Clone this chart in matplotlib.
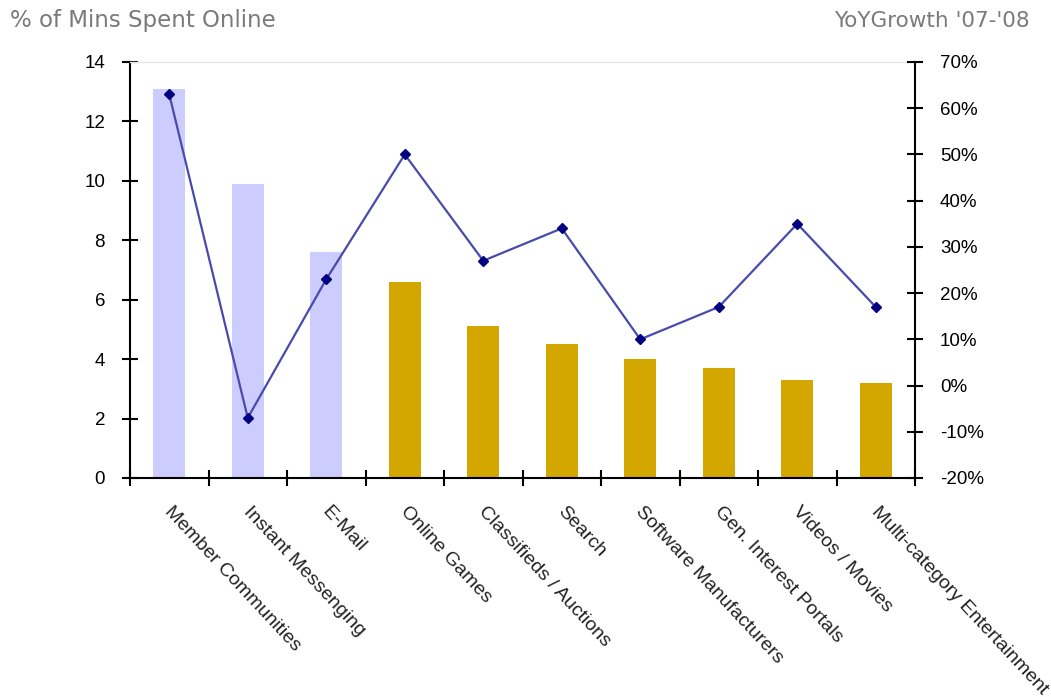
import matplotlib
matplotlib.use("Agg")
import matplotlib.pyplot as plt
from matplotlib.ticker import FuncFormatter

categories = ["Member Communities", "Instant Messenging", "E-Mail", "Online Games",
              "Classifieds / Auctions", "Search", "Software Manufacturers",
              "Gen. Interest Portals", "Videos / Movies", "Multi-category Entertainment"]
share_of_minutes = [13.1, 9.9, 7.6, 6.6, 5.1, 4.5, 4.0, 3.7, 3.3, 3.2]
yoy_growth = [63, -7, 23, 50, 27, 34, 10, 17, 35, 17]
bar_colors = ["#CCCCFF"] * 3 + ["#D4A600"] * 7

left_ticks = [0, 2, 4, 6, 8, 10, 12, 14]
right_ticks = [-20, -10, 0, 10, 20, 30, 40, 50, 60, 70]

plt.rcParams["font.family"] = ["Liberation Sans", "DejaVu Sans"]

fig = plt.figure(figsize=(10.51, 6.97), dpi=100)
ax = fig.add_axes([130 / 1051, 1 - 478 / 697, 785 / 1051, 416 / 697])
x = list(range(len(categories)))

ax.bar(x, share_of_minutes, width=0.41, color=bar_colors, zorder=2)
ax.set_xlim(-0.5, len(categories) - 0.5)
ax.set_ylim(0, 14)
ax.set_yticks(left_ticks)
ax.set_xticks([i - 0.5 for i in range(len(categories) + 1)])
ax.set_xticklabels([])
ax.tick_params(axis="both", direction="inout", length=12, width=1.5,
               colors="black", labelsize=13.5)
ax.tick_params(axis="y", pad=12)
for i, name in enumerate(categories):
    ax.text(i + 0.06, -0.85, name, rotation=-47, rotation_mode="anchor",
            ha="left", va="top", fontsize=14, color="#222222")

for side in ["left", "bottom"]:
    ax.spines[side].set_linewidth(1.5)
ax.spines["top"].set_color("#E6E6E6")
ax.spines["top"].set_linewidth(1)
ax.spines["right"].set_visible(False)

ax2 = ax.twinx()
ax2.plot(x, yoy_growth, color="#4A4AAE", lw=1.6, marker="D", ms=5,
         mfc="#000080", mec="#000080", zorder=3)
ax2.set_ylim(-20, 70)
ax2.set_yticks(right_ticks)
ax2.yaxis.set_major_formatter(FuncFormatter(lambda v, _: f"{v:.0f}%"))
ax2.tick_params(axis="y", direction="inout", length=12, width=1.5,
                labelsize=13.5, pad=12)
ax2.spines["right"].set_linewidth(1.5)
for side in ["left", "top", "bottom"]:
    ax2.spines[side].set_visible(False)

fig.text(10 / 1051, 1 - 21 / 697, "% of Mins Spent Online", ha="left",
         va="center", fontsize=16.5, color="#7A7A7A", family="DejaVu Sans")
fig.text(1030 / 1051, 1 - 21 / 697, "YoYGrowth '07-'08", ha="right",
         va="center", fontsize=15.5, color="#7A7A7A", family="DejaVu Sans")

fig.savefig("out.png", dpi=100, facecolor="white")
